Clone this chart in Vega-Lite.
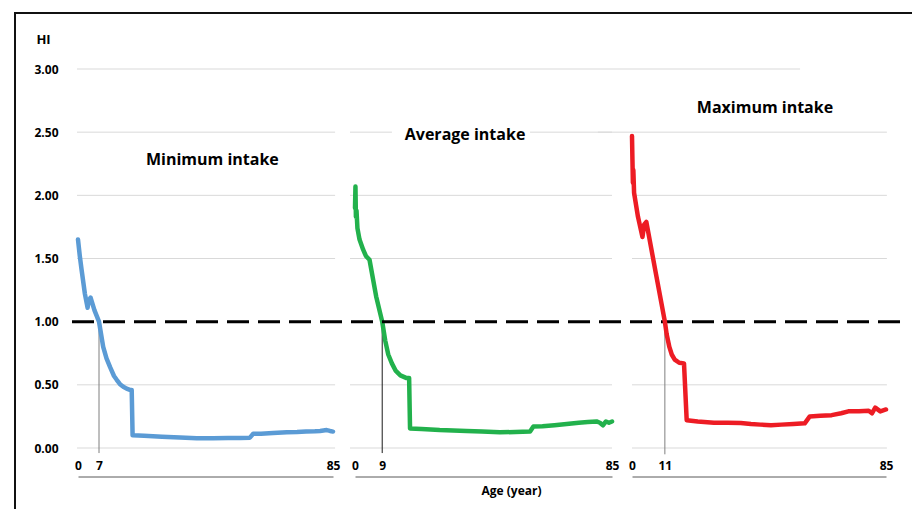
{
  "$schema": "https://vega.github.io/schema/vega-lite/v6.json",
  "width": 900,
  "height": 500,
  "autosize": "none",
  "padding": {"left": 15, "top": 13, "right": 0, "bottom": 0},
  "background": "white",
  "config": {
    "view": {"stroke": "#111111", "strokeWidth": 2},
    "font": "Open Sans",
    "axisX": {"domainColor": "#595959", "domainWidth": 1, "ticks": false, "tickSize": 0, "labelPadding": -16, "labelFontWeight": "bold", "labelFontSize": 12, "labelColor": "#000000", "grid": false, "labelFlush": false, "labelOverlap": false, "titleFontWeight": "bold", "titleFontSize": 12, "titleColor": "#000000"},
    "axisY": {"domain": false, "ticks": false, "tickSize": 0, "labelPadding": 2, "grid": false, "labelFontSize": 12, "labelFontWeight": "bold", "labelColor": "#000000", "titleAngle": 0, "titleAlign": "center", "titleBaseline": "middle", "titleFontSize": 13, "titleFontWeight": "bold", "titleColor": "#000000"}
  },
  "data": {"values": [{}]},
  "datasets": {
    "grid": [{"g": 0}, {"g": 0.5}, {"g": 1}, {"g": 1.5}, {"g": 2}, {"g": 2.5}, {"g": 3}],
    "minimum": [
      {"age": 0, "hi": 1.65}, {"age": 0.6, "hi": 1.52}, {"age": 1.2, "hi": 1.41}, {"age": 2.3, "hi": 1.22}, {"age": 3.2, "hi": 1.11}, {"age": 3.6, "hi": 1.17}, {"age": 4.2, "hi": 1.19}, {"age": 5.5, "hi": 1.09}, {"age": 7, "hi": 1.0}, {"age": 8.4, "hi": 0.8}, {"age": 9.5, "hi": 0.71}, {"age": 10.7, "hi": 0.64}, {"age": 12, "hi": 0.57}, {"age": 12.9, "hi": 0.54}, {"age": 14, "hi": 0.505}, {"age": 15.1, "hi": 0.485}, {"age": 16.2, "hi": 0.47}, {"age": 17.3, "hi": 0.46}, {"age": 17.9, "hi": 0.46}, {"age": 18.2, "hi": 0.1}, {"age": 22, "hi": 0.097}, {"age": 28, "hi": 0.09}, {"age": 34, "hi": 0.083}, {"age": 39.6, "hi": 0.078}, {"age": 45, "hi": 0.078}, {"age": 50, "hi": 0.079}, {"age": 54, "hi": 0.08}, {"age": 57.3, "hi": 0.082}, {"age": 58.4, "hi": 0.112}, {"age": 61, "hi": 0.113}, {"age": 65, "hi": 0.118}, {"age": 69.6, "hi": 0.124}, {"age": 73, "hi": 0.126}, {"age": 76, "hi": 0.13}, {"age": 79, "hi": 0.132}, {"age": 80.7, "hi": 0.135}, {"age": 82.9, "hi": 0.142}, {"age": 84, "hi": 0.135}, {"age": 85, "hi": 0.13}
    ],
    "average": [
      {"age": 0, "hi": 1.9}, {"age": 0.15, "hi": 2.07}, {"age": 0.3, "hi": 1.83}, {"age": 0.5, "hi": 1.88}, {"age": 0.8, "hi": 1.74}, {"age": 1.5, "hi": 1.65}, {"age": 2.7, "hi": 1.57}, {"age": 3.6, "hi": 1.52}, {"age": 4.8, "hi": 1.49}, {"age": 7, "hi": 1.2}, {"age": 9, "hi": 1.0}, {"age": 10, "hi": 0.85}, {"age": 11, "hi": 0.74}, {"age": 12.2, "hi": 0.67}, {"age": 13.5, "hi": 0.61}, {"age": 15, "hi": 0.575}, {"age": 16.9, "hi": 0.555}, {"age": 17.9, "hi": 0.555}, {"age": 18.2, "hi": 0.155}, {"age": 22, "hi": 0.15}, {"age": 28, "hi": 0.142}, {"age": 36.9, "hi": 0.135}, {"age": 42, "hi": 0.13}, {"age": 47.9, "hi": 0.124}, {"age": 53, "hi": 0.127}, {"age": 57.9, "hi": 0.13}, {"age": 59, "hi": 0.17}, {"age": 62, "hi": 0.172}, {"age": 66, "hi": 0.18}, {"age": 70, "hi": 0.19}, {"age": 74, "hi": 0.2}, {"age": 77, "hi": 0.205}, {"age": 79.9, "hi": 0.21}, {"age": 81, "hi": 0.2}, {"age": 82, "hi": 0.18}, {"age": 83, "hi": 0.21}, {"age": 84, "hi": 0.2}, {"age": 85, "hi": 0.21}
    ],
    "maximum": [
      {"age": 0, "hi": 2.47}, {"age": 0.15, "hi": 2.28}, {"age": 0.3, "hi": 2.1}, {"age": 0.45, "hi": 2.2}, {"age": 0.7, "hi": 2.02}, {"age": 2, "hi": 1.83}, {"age": 3.5, "hi": 1.67}, {"age": 4.1, "hi": 1.77}, {"age": 4.8, "hi": 1.79}, {"age": 8, "hi": 1.38}, {"age": 11, "hi": 1.0}, {"age": 11.6, "hi": 0.9}, {"age": 12.5, "hi": 0.8}, {"age": 13.3, "hi": 0.74}, {"age": 14.3, "hi": 0.7}, {"age": 15.8, "hi": 0.675}, {"age": 17.4, "hi": 0.67}, {"age": 18.3, "hi": 0.22}, {"age": 22, "hi": 0.21}, {"age": 27.4, "hi": 0.2}, {"age": 32, "hi": 0.2}, {"age": 36.4, "hi": 0.198}, {"age": 39.8, "hi": 0.19}, {"age": 43, "hi": 0.185}, {"age": 46.5, "hi": 0.18}, {"age": 50, "hi": 0.185}, {"age": 54, "hi": 0.19}, {"age": 57.8, "hi": 0.195}, {"age": 59.5, "hi": 0.25}, {"age": 63, "hi": 0.255}, {"age": 66.8, "hi": 0.26}, {"age": 70, "hi": 0.275}, {"age": 72.4, "hi": 0.29}, {"age": 76, "hi": 0.29}, {"age": 79.2, "hi": 0.295}, {"age": 80.3, "hi": 0.275}, {"age": 81.4, "hi": 0.32}, {"age": 83.1, "hi": 0.29}, {"age": 85, "hi": 0.305}
    ]
  },
  "layer": [
    {
      "layer": [
        {
          "data": {"name": "grid"},
          "transform": [{"filter": "datum.g < 3 && datum.g != 1"}],
          "mark": {"type": "rule", "color": "#d9d9d9", "strokeWidth": 1},
          "encoding": {
            "x": {"datum": -0.33, "type": "quantitative", "scale": {"domain": [0, 85], "range": [63, 318], "nice": false, "zero": false}, "axis": {"orient": "bottom", "values": [0, 7, 85], "offset": -36.5, "title": null}},
            "x2": {"datum": 85.7},
            "y": {"field": "g", "type": "quantitative", "scale": {"domain": [0, 3], "range": [435, 56], "nice": false, "zero": false}, "axis": {"title": "HI", "offset": -45, "values": [0, 0.5, 1, 1.5, 2, 2.5, 3], "format": ".2f", "titleX": -17, "titleY": 26}}
          }
        },
        {
          "mark": {"type": "rule", "color": "#d9d9d9", "strokeWidth": 1},
          "encoding": {
            "x": {"datum": -0.33, "type": "quantitative", "scale": {"domain": [0, 85], "range": [63, 318], "nice": false, "zero": false}, "axis": {"orient": "bottom", "values": [0, 7, 85], "offset": -36.5, "title": null}},
            "x2": {"datum": 240.7},
            "y": {"datum": 3, "type": "quantitative", "scale": {"domain": [0, 3], "range": [435, 56], "nice": false, "zero": false}, "axis": {"title": "HI", "offset": -45, "values": [0, 0.5, 1, 1.5, 2, 2.5, 3], "format": ".2f", "titleX": -17, "titleY": 26}}
          }
        },
        {
          "mark": {"type": "rule", "color": "#7f7f7f", "strokeWidth": 1},
          "encoding": {
            "x": {"datum": 7, "type": "quantitative", "scale": {"domain": [0, 85], "range": [63, 318], "nice": false, "zero": false}, "axis": {"orient": "bottom", "values": [0, 7, 85], "offset": -36.5, "title": null}},
            "y": {"datum": 1, "type": "quantitative", "scale": {"domain": [0, 3], "range": [435, 56], "nice": false, "zero": false}, "axis": {"title": "HI", "offset": -45, "values": [0, 0.5, 1, 1.5, 2, 2.5, 3], "format": ".2f", "titleX": -17, "titleY": 26}},
            "y2": {"datum": -0.04}
          }
        },
        {
          "data": {"name": "minimum"},
          "mark": {"type": "line", "color": "#5B9BD5", "strokeWidth": 4.5, "strokeJoin": "round", "strokeCap": "round"},
          "encoding": {
            "x": {"field": "age", "type": "quantitative", "scale": {"domain": [0, 85], "range": [63, 318], "nice": false, "zero": false}, "axis": {"orient": "bottom", "values": [0, 7, 85], "offset": -36.5, "title": null}},
            "y": {"field": "hi", "type": "quantitative", "scale": {"domain": [0, 3], "range": [435, 56], "nice": false, "zero": false}, "axis": {"title": "HI", "offset": -45, "values": [0, 0.5, 1, 1.5, 2, 2.5, 3], "format": ".2f", "titleX": -17, "titleY": 26}}
          }
        },
        {
          "mark": {"type": "text", "text": "Minimum intake", "fontSize": 16, "fontWeight": "bold", "color": "#000000", "align": "center", "baseline": "middle"},
          "encoding": {
            "x": {"datum": 44.8, "type": "quantitative", "scale": {"domain": [0, 85], "range": [63, 318], "nice": false, "zero": false}, "axis": {"orient": "bottom", "values": [0, 7, 85], "offset": -36.5, "title": null}},
            "y": {"datum": 2.28, "type": "quantitative", "scale": {"domain": [0, 3], "range": [435, 56], "nice": false, "zero": false}, "axis": {"title": "HI", "offset": -45, "values": [0, 0.5, 1, 1.5, 2, 2.5, 3], "format": ".2f", "titleX": -17, "titleY": 26}}
          }
        }
      ]
    },
    {
      "layer": [
        {
          "data": {"name": "grid"},
          "transform": [{"filter": "datum.g < 3 && datum.g != 1"}],
          "mark": {"type": "rule", "color": "#d9d9d9", "strokeWidth": 1},
          "encoding": {
            "x": {"datum": -1.65, "type": "quantitative", "scale": {"domain": [0, 85], "range": [340, 597], "nice": false, "zero": false}, "axis": {"orient": "bottom", "values": [0, 9, 85], "offset": -36.5, "title": "Age (year)", "titleX": 496, "titleY": 8.5, "titleAlign": "center", "titleBaseline": "top"}},
            "x2": {"datum": 85},
            "y": {"field": "g", "type": "quantitative", "scale": {"domain": [0, 3], "range": [435, 56], "nice": false, "zero": false}, "axis": {"title": "HI", "offset": -45, "values": [0, 0.5, 1, 1.5, 2, 2.5, 3], "format": ".2f", "titleX": -17, "titleY": 26}}
          }
        },
        {
          "mark": {"type": "rect", "color": "#ffffff"},
          "encoding": {
            "x": {"datum": 12.2, "type": "quantitative", "scale": {"domain": [0, 85], "range": [340, 597], "nice": false, "zero": false}, "axis": {"orient": "bottom", "values": [0, 9, 85], "offset": -36.5, "title": "Age (year)", "titleX": 496, "titleY": 8.5, "titleAlign": "center", "titleBaseline": "top"}},
            "x2": {"datum": 57.9},
            "y": {"datum": 2.46, "type": "quantitative", "scale": {"domain": [0, 3], "range": [435, 56], "nice": false, "zero": false}, "axis": {"title": "HI", "offset": -45, "values": [0, 0.5, 1, 1.5, 2, 2.5, 3], "format": ".2f", "titleX": -17, "titleY": 26}},
            "y2": {"datum": 2.54}
          }
        },
        {
          "mark": {"type": "rule", "color": "#1a1a1a", "strokeWidth": 1},
          "encoding": {
            "x": {"datum": 9, "type": "quantitative", "scale": {"domain": [0, 85], "range": [340, 597], "nice": false, "zero": false}, "axis": {"orient": "bottom", "values": [0, 9, 85], "offset": -36.5, "title": "Age (year)", "titleX": 496, "titleY": 8.5, "titleAlign": "center", "titleBaseline": "top"}},
            "y": {"datum": 1, "type": "quantitative", "scale": {"domain": [0, 3], "range": [435, 56], "nice": false, "zero": false}, "axis": {"title": "HI", "offset": -45, "values": [0, 0.5, 1, 1.5, 2, 2.5, 3], "format": ".2f", "titleX": -17, "titleY": 26}},
            "y2": {"datum": -0.04}
          }
        },
        {
          "data": {"name": "average"},
          "mark": {"type": "line", "color": "#22B14C", "strokeWidth": 4.5, "strokeJoin": "round", "strokeCap": "round"},
          "encoding": {
            "x": {"field": "age", "type": "quantitative", "scale": {"domain": [0, 85], "range": [340, 597], "nice": false, "zero": false}, "axis": {"orient": "bottom", "values": [0, 9, 85], "offset": -36.5, "title": "Age (year)", "titleX": 496, "titleY": 8.5, "titleAlign": "center", "titleBaseline": "top"}},
            "y": {"field": "hi", "type": "quantitative", "scale": {"domain": [0, 3], "range": [435, 56], "nice": false, "zero": false}, "axis": {"title": "HI", "offset": -45, "values": [0, 0.5, 1, 1.5, 2, 2.5, 3], "format": ".2f", "titleX": -17, "titleY": 26}}
          }
        },
        {
          "mark": {"type": "text", "text": "Average intake", "fontSize": 16, "fontWeight": "bold", "color": "#000000", "align": "center", "baseline": "middle"},
          "encoding": {
            "x": {"datum": 36.4, "type": "quantitative", "scale": {"domain": [0, 85], "range": [340, 597], "nice": false, "zero": false}, "axis": {"orient": "bottom", "values": [0, 9, 85], "offset": -36.5, "title": "Age (year)", "titleX": 496, "titleY": 8.5, "titleAlign": "center", "titleBaseline": "top"}},
            "y": {"datum": 2.48, "type": "quantitative", "scale": {"domain": [0, 3], "range": [435, 56], "nice": false, "zero": false}, "axis": {"title": "HI", "offset": -45, "values": [0, 0.5, 1, 1.5, 2, 2.5, 3], "format": ".2f", "titleX": -17, "titleY": 26}}
          }
        }
      ]
    },
    {
      "layer": [
        {
          "data": {"name": "grid"},
          "transform": [{"filter": "datum.g < 2.5 && datum.g != 1"}],
          "mark": {"type": "rule", "color": "#d9d9d9", "strokeWidth": 1},
          "encoding": {
            "x": {"datum": 0, "type": "quantitative", "scale": {"domain": [0, 85], "range": [617, 871], "nice": false, "zero": false}, "axis": {"orient": "bottom", "values": [0, 11, 85], "offset": -36.5, "title": null}},
            "x2": {"datum": 85.3},
            "y": {"field": "g", "type": "quantitative", "scale": {"domain": [0, 3], "range": [435, 56], "nice": false, "zero": false}, "axis": {"title": "HI", "offset": -45, "values": [0, 0.5, 1, 1.5, 2, 2.5, 3], "format": ".2f", "titleX": -17, "titleY": 26}}
          }
        },
        {
          "mark": {"type": "rule", "color": "#d9d9d9", "strokeWidth": 1},
          "encoding": {
            "x": {"datum": -11.4, "type": "quantitative", "scale": {"domain": [0, 85], "range": [617, 871], "nice": false, "zero": false}, "axis": {"orient": "bottom", "values": [0, 11, 85], "offset": -36.5, "title": null}},
            "x2": {"datum": 85.3},
            "y": {"datum": 2.5, "type": "quantitative", "scale": {"domain": [0, 3], "range": [435, 56], "nice": false, "zero": false}, "axis": {"title": "HI", "offset": -45, "values": [0, 0.5, 1, 1.5, 2, 2.5, 3], "format": ".2f", "titleX": -17, "titleY": 26}}
          }
        },
        {
          "mark": {"type": "rule", "color": "#000000", "strokeWidth": 3, "strokeDash": [22, 9]},
          "encoding": {
            "x": {"datum": -187.4, "type": "quantitative", "scale": {"domain": [0, 85], "range": [617, 871], "nice": false, "zero": false}, "axis": {"orient": "bottom", "values": [0, 11, 85], "offset": -36.5, "title": null}},
            "x2": {"datum": 90.7},
            "y": {"datum": 1, "type": "quantitative", "scale": {"domain": [0, 3], "range": [435, 56], "nice": false, "zero": false}, "axis": {"title": "HI", "offset": -45, "values": [0, 0.5, 1, 1.5, 2, 2.5, 3], "format": ".2f", "titleX": -17, "titleY": 26}}
          }
        },
        {
          "mark": {"type": "rule", "color": "#7f7f7f", "strokeWidth": 1},
          "encoding": {
            "x": {"datum": 11, "type": "quantitative", "scale": {"domain": [0, 85], "range": [617, 871], "nice": false, "zero": false}, "axis": {"orient": "bottom", "values": [0, 11, 85], "offset": -36.5, "title": null}},
            "y": {"datum": 1, "type": "quantitative", "scale": {"domain": [0, 3], "range": [435, 56], "nice": false, "zero": false}, "axis": {"title": "HI", "offset": -45, "values": [0, 0.5, 1, 1.5, 2, 2.5, 3], "format": ".2f", "titleX": -17, "titleY": 26}},
            "y2": {"datum": -0.05}
          }
        },
        {
          "data": {"name": "maximum"},
          "mark": {"type": "line", "color": "#ED1C24", "strokeWidth": 4.5, "strokeJoin": "round", "strokeCap": "round"},
          "encoding": {
            "x": {"field": "age", "type": "quantitative", "scale": {"domain": [0, 85], "range": [617, 871], "nice": false, "zero": false}, "axis": {"orient": "bottom", "values": [0, 11, 85], "offset": -36.5, "title": null}},
            "y": {"field": "hi", "type": "quantitative", "scale": {"domain": [0, 3], "range": [435, 56], "nice": false, "zero": false}, "axis": {"title": "HI", "offset": -45, "values": [0, 0.5, 1, 1.5, 2, 2.5, 3], "format": ".2f", "titleX": -17, "titleY": 26}}
          }
        },
        {
          "mark": {"type": "text", "text": "Maximum intake", "fontSize": 16, "fontWeight": "bold", "color": "#000000", "align": "center", "baseline": "middle"},
          "encoding": {
            "x": {"datum": 44.5, "type": "quantitative", "scale": {"domain": [0, 85], "range": [617, 871], "nice": false, "zero": false}, "axis": {"orient": "bottom", "values": [0, 11, 85], "offset": -36.5, "title": null}},
            "y": {"datum": 2.69, "type": "quantitative", "scale": {"domain": [0, 3], "range": [435, 56], "nice": false, "zero": false}, "axis": {"title": "HI", "offset": -45, "values": [0, 0.5, 1, 1.5, 2, 2.5, 3], "format": ".2f", "titleX": -17, "titleY": 26}}
          }
        }
      ]
    }
  ],
  "resolve": {"scale": {"x": "independent"}, "axis": {"x": "independent"}}
}
